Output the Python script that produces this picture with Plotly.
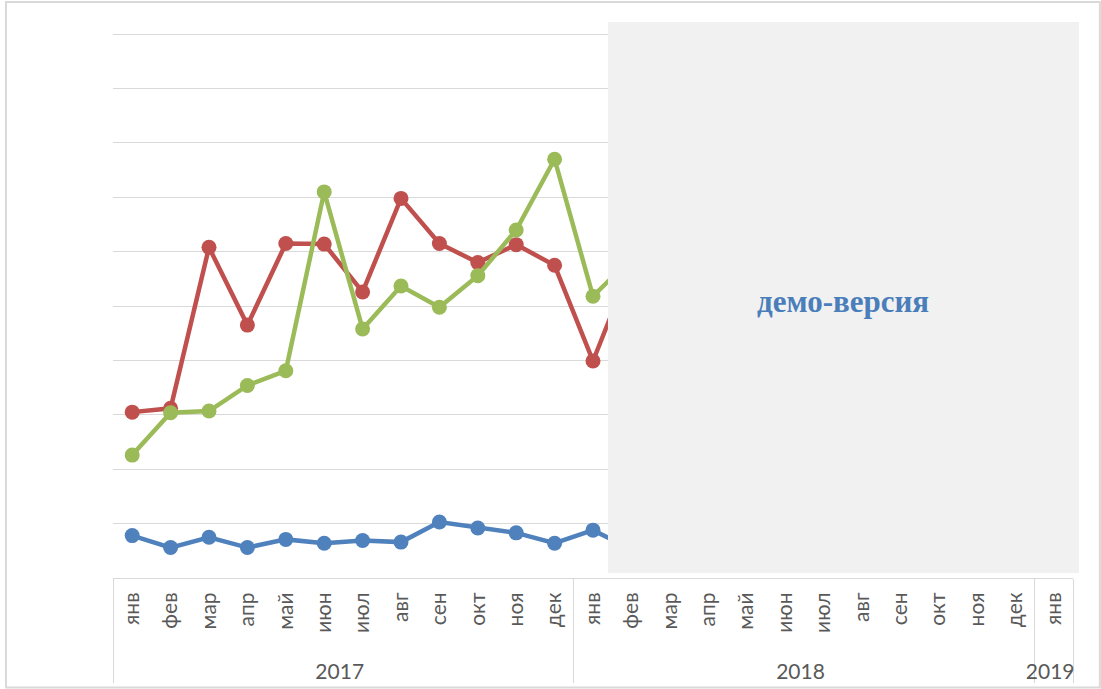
"""Monthly line chart 2017-2019 with a demo-version overlay."""

import plotly.graph_objects as go

# category axis: year groups and month labels
years = ["2017"] * 12 + ["2018"] * 12 + ["2019"]
months = ["янв", "фев", "мар", "апр", "май", "июн",
          "июл", "авг", "сен", "окт", "ноя", "дек"] * 2 + ["янв"]

# series values (only the part left of the overlay is readable)
blue = [0.78, 0.56, 0.75, 0.56, 0.71, 0.64, 0.69, 0.66, 1.03, 0.92, 0.83, 0.64,
        0.88, 0.53] + [None] * 11
red = [3.05, 3.12, 6.08, 4.65, 6.15, 6.14, 5.26, 6.98, 6.15, 5.80, 6.13, 5.75,
       3.99, 5.77] + [None] * 11
green = [2.26, 3.04, 3.07, 3.54, 3.81, 7.10, 4.58, 5.37, 4.98, 5.56, 6.40, 7.70,
         5.18, 5.88] + [None] * 11

series = [
    ("blue", blue, "#4F81BD"),
    ("red", red, "#C0504D"),
    ("green", green, "#9BBB59"),
]

fig = go.Figure()
for name, vals, color in series:
    fig.add_trace(
        go.Scatter(
            x=[years, months],
            y=vals,
            name=name,
            mode="lines+markers",
            line=dict(color=color, width=4.5),
            marker=dict(color=color, size=15),
        )
    )

fig.update_layout(
    width=1101,
    height=689,
    paper_bgcolor="white",
    plot_bgcolor="white",
    showlegend=False,
    margin=dict(l=113, r=28, t=32, b=111, autoexpand=False),
    font=dict(family="Lato, Open Sans, sans-serif", color="#595959"),
    xaxis=dict(
        type="multicategory",
        range=[-0.5, 24.5],
        showline=True,
        linecolor="#d9d9d9",
        linewidth=1,
        showgrid=False,
        ticks="",
        tickangle=-90,
        tickprefix="\u2002",
        tickfont=dict(size=21, color="#595959"),
        showdividers=True,
        dividercolor="#d9d9d9",
        dividerwidth=1,
        ticklabelstandoff=5,
    ),
    yaxis=dict(
        range=[0, 10.04],
        dtick=1,
        showgrid=True,
        gridcolor="#d9d9d9",
        gridwidth=1,
        zeroline=False,
        showticklabels=False,
        ticks="",
    ),
    shapes=[
        # outer chart frame
        dict(type="rect", xref="paper", yref="paper",
             x0=-0.1115, x1=1.028, y0=-0.2004, y1=1.055,
             line=dict(color="#d9d9d9", width=2), layer="below"),
        # demo overlay
        dict(type="rect", xref="paper", yref="paper",
             x0=0.5156, x1=1.0063, y0=0.0092, y1=1.0184,
             fillcolor="#f1f1f1", line=dict(width=0), layer="above"),
    ],
    annotations=[
        dict(text="<b>демо-версия</b>", xref="paper", yref="paper",
             x=0.760, y=0.507, xanchor="center", yanchor="middle",
             showarrow=False,
             font=dict(family="Liberation Serif, serif", size=31, color="#4A7EBB")),
    ],
)

fig.write_html(
    "out.html",
    config={"displayModeBar": False},
    post_script="document.body.style.margin='0';",
)
